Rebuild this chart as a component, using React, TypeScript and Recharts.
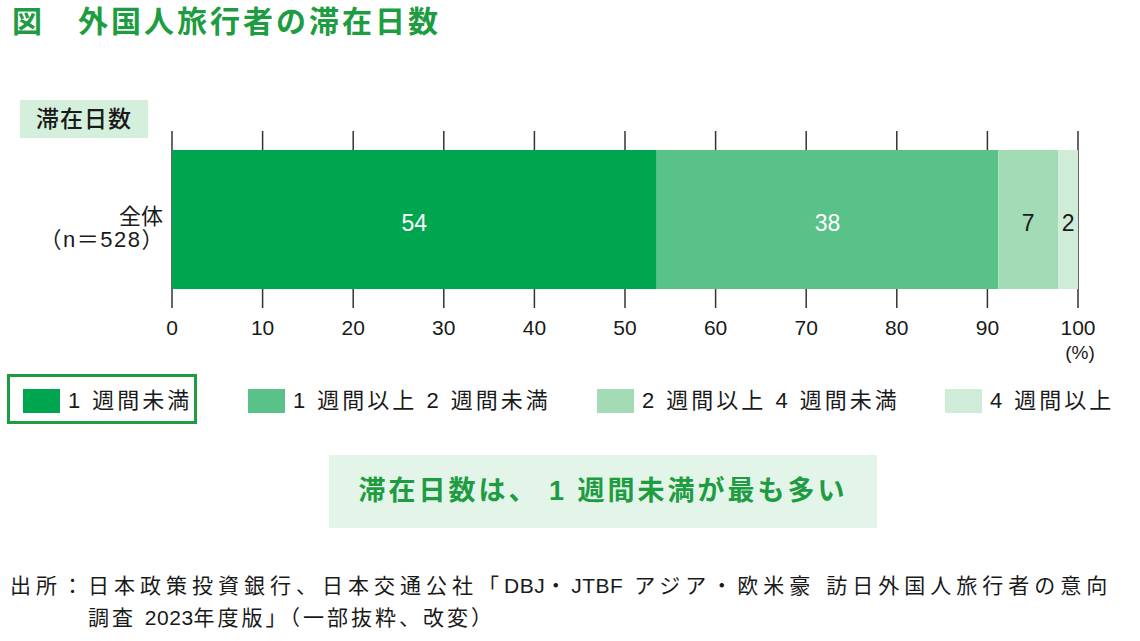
import React from 'react';
import { BarChart, Bar, XAxis, YAxis, CartesianGrid, LabelList } from 'recharts';

// 滞在日数 (%)
const categories = ['全体'];
const sampleSizes = ['（n＝528）'];
const seriesNames = ['1 週間未満', '1 週間以上 2 週間未満', '2 週間以上 4 週間未満', '4 週間以上'];
const shareValues = [53.5, 37.7, 6.6, 2.2];
const xTicks = [0, 10, 20, 30, 40, 50, 60, 70, 80, 90, 100];

const seriesColors = ['#00a54f', '#58c288', '#a3dbb6', '#cfecd9'];
const labelColors = ['#ffffff', '#ffffff', '#1a1a1a', '#1a1a1a'];
const legendLefts = [23, 248, 597, 945];

const FONT = '"Liberation Sans", "Noto Sans CJK JP", sans-serif';
const GREEN = '#1d9c41';

const chartData = categories.map((cat, i) => {
    const row: any = { category: cat, n: sampleSizes[i] };
    shareValues.forEach((v, k) => {
        row[`s${k}`] = v;
    });
    return row;
});

const CategoryTick = (props: any) => {
    const { x, y, payload } = props;
    const idx = categories.indexOf(payload.value);
    return (
        <g>
            <text x={x} y={y - 3} textAnchor="end" dominantBaseline="central" fontSize={22} fill="#1a1a1a" fontFamily={FONT}>
                {payload.value}
            </text>
            <text x={x + 2} y={y + 20} textAnchor="end" dominantBaseline="central" fontSize={22} letterSpacing={1.5} fill="#1a1a1a" fontFamily={FONT}>
                {sampleSizes[idx]}
            </text>
        </g>
    );
};

export default function App() {
    return (
        <div style={{ position: 'absolute', top: 0, left: 0, width: 1140, height: 641, background: '#fff', fontFamily: FONT, color: '#1a1a1a', overflow: 'hidden' }}>
            {/* title */}
            <div style={{ position: 'absolute', left: 12, top: 4, fontSize: 30, fontWeight: 700, color: GREEN, whiteSpace: 'nowrap', lineHeight: '36px' }}>
                <span>図</span>
                <span style={{ marginLeft: 36, letterSpacing: 3 }}>外国人旅行者の滞在日数</span>
            </div>

            {/* axis heading box */}
            <div style={{ position: 'absolute', left: 20, top: 100, width: 128, height: 38, background: '#d5efdd', fontSize: 23, fontWeight: 500, lineHeight: '38px', textAlign: 'center', letterSpacing: 1 }}>
                滞在日数
            </div>

            <div style={{ position: 'absolute', left: 0, top: 0 }}>
                <BarChart width={1140} height={360} data={chartData} layout="vertical" margin={{ top: 131, right: 62, left: 0, bottom: 22 }}>
                    <CartesianGrid horizontal={false} stroke="#333" strokeWidth={1.5} />
                    <XAxis
                        type="number"
                        domain={[0, 100]}
                        ticks={xTicks}
                        axisLine={false}
                        tickLine={false}
                        tickMargin={6}
                        height={30}
                        interval={0}
                        tick={{ fontSize: 21, fill: '#1a1a1a', fontFamily: FONT }}
                    />
                    <YAxis type="category" dataKey="category" width={172} axisLine={false} tickLine={false} tickMargin={3} tick={<CategoryTick />} />
                    {seriesNames.map((name, k) => (
                        <Bar key={name} dataKey={`s${k}`} name={name} stackId="a" fill={seriesColors[k]} barSize={139} isAnimationActive={false}>
                            <LabelList
                                dataKey={`s${k}`}
                                position="center"
                                offset={0}
                                formatter={(v: any) => Math.round(Number(v))}
                                style={{ fontSize: 23, fill: labelColors[k], fontFamily: FONT, transform: 'translateY(3px)' }}
                            />
                        </Bar>
                    ))}
                </BarChart>
            </div>

            <div style={{ position: 'absolute', left: 1060, top: 342, fontSize: 19, width: 40, textAlign: 'center' }}>(%)</div>

            {/* legend */}
            <div style={{ position: 'absolute', left: 7, top: 374, width: 190, height: 50, border: `3px solid ${GREEN}`, boxSizing: 'border-box' }} />
            {seriesNames.map((name, k) => (
                <div key={name} style={{ position: 'absolute', left: legendLefts[k], top: 389, display: 'flex', alignItems: 'center', whiteSpace: 'nowrap' }}>
                    <div style={{ width: 37, height: 24, background: seriesColors[k] }} />
                    <span style={{ marginLeft: 8, fontSize: 22, letterSpacing: 3, lineHeight: '24px' }}>{name}</span>
                </div>
            ))}

            {/* summary */}
            <div style={{ position: 'absolute', left: 329, top: 455, width: 548, height: 73, background: '#e3f4e9', color: GREEN, fontSize: 27, fontWeight: 700, lineHeight: '73px', textAlign: 'center', letterSpacing: 3, whiteSpace: 'nowrap' }}>
                滞在日数は、 1 週間未満が最も多い
            </div>

            {/* source */}
            <div style={{ position: 'absolute', left: 10, top: 570, fontSize: 21, lineHeight: '32px', whiteSpace: 'nowrap' }}>
                <div style={{ letterSpacing: 5 }}>
                    出所：日本政策投資銀行、日本交通公社「<span style={{ letterSpacing: 0.5 }}>DBJ</span>・<span style={{ letterSpacing: 0.5 }}>JTBF</span> アジア・欧米豪 訪日外国人旅行者の意向
                </div>
                <div style={{ marginLeft: 78, letterSpacing: 3 }}>
                    調査 <span style={{ letterSpacing: 0.5 }}>2023</span>年度版」（一部抜粋、改変）
                </div>
            </div>
        </div>
    );
}
